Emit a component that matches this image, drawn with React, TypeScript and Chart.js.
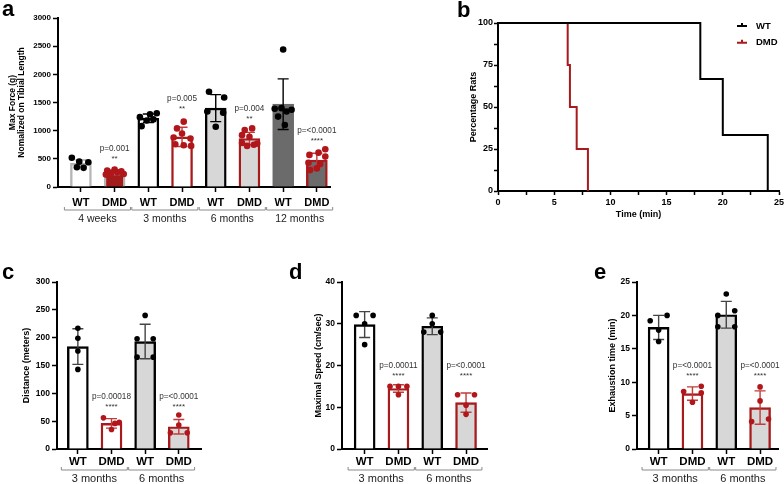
import React, { useEffect, useRef } from "react";
import { Chart, registerables } from "chart.js";
Chart.register(...registerables);

const FONT = "'Liberation Sans', Arial, Helvetica, sans-serif";
Chart.defaults.font.family = FONT;

// ---------- Panel a data ----------
const A_LABELS = ["WT", "DMD", "WT", "DMD", "WT", "DMD", "WT", "DMD"];
const A_GROUPS = ["4 weeks", "3 months", "6 months", "12 months"];
const A_MEANS = [420, 262, 1220, 890, 1400, 860, 1470, 480];
const A_SD = [60, 40, 75, 170, 240, 110, 450, 120];
const A_POINTS = [
  [520, 450, 440, 350, 340],
  [310, 290, 280, 260, 250, 230, 220],
  [1310, 1290, 1240, 1200, 1180, 1080],
  [1160, 1040, 950, 880, 860, 760, 740, 730],
  [1690, 1590, 1340, 1320, 1070],
  [1040, 1010, 920, 890, 780, 750, 730, 770],
  [2440, 1400, 1390, 1370, 1340, 1250, 1100],
  [670, 610, 570, 540, 430, 410, 330, 300],
];
const A_JITTER = [
  [-0.27, -0.05, 0.22, -0.12, 0.08],
  [0.0, -0.22, 0.2, 0.08, -0.1, 0.27, -0.26],
  [0.25, 0.05, -0.25, 0.15, -0.05, -0.2],
  [0.05, -0.15, 0.0, -0.25, 0.25, -0.2, 0.05, 0.27],
  [-0.2, 0.25, -0.25, 0.22, 0.0],
  [0.08, -0.14, -0.22, 0.0, -0.22, 0.13, -0.07, 0.23],
  [0.0, -0.05, -0.25, 0.25, 0.1, -0.15, 0.05],
  [0.25, 0.05, -0.22, 0.25, -0.25, 0.1, 0.0, -0.2],
];
const A_P = ["", "p=0.001", "", "p=0.005", "", "p=0.004", "", "p=<0.0001"];
const A_STARS = ["", "**", "", "**", "", "**", "", "****"];
const A_PLEVEL = [0, 675, 0, 1562, 0, 1385, 0, 994];

// ---------- Panel b data ----------
const KM_WT_TIME = [0, 18, 20, 24];
const KM_WT_SURV = [100, 66.7, 33.3, 0];
const KM_DMD_TIME = [0, 6.2, 6.4, 7, 8];
const KM_DMD_SURV = [100, 75, 50, 25, 0];
const KM_SERIES = ["WT", "DMD"];

// ---------- Panels c, d, e data ----------
const CDE_LABELS = ["WT", "DMD", "WT", "DMD"];
const CDE_GROUPS = ["3 months", "6 months"];

const C_MEANS = [184, 46, 193, 40];
const C_SD = [32, 8.5, 31, 13];
const C_POINTS = [[217, 199, 176, 143], [56, 48, 46, 35], [240, 198, 198, 165, 165], [61, 43, 29, 29]];
const C_JITTER = [[0, 0, 0, 0], [-0.24, 0.23, 0.1, 0], [0, -0.24, 0.24, -0.24, 0.24], [0, 0, -0.25, 0.25]];
const C_P = ["", "p=0.00018", "", "p=<0.0001"];
const C_STARS = ["", "****", "", "****"];
const C_PLEVEL = [0, 93, 0, 93];

const D_MEANS = [29.8, 14.5, 29.4, 11.1];
const D_SD = [3.1, 0.9, 2.0, 2.3];
const D_POINTS = [[32, 32, 30, 25], [15, 15, 15, 13], [32, 30, 28, 28], [13, 13, 10.5, 8.3]];
const D_JITTER = [[-0.25, 0.25, 0, 0], [-0.25, 0, 0.25, 0], [0, 0, -0.25, 0.25], [-0.25, 0.25, 0, 0]];
const D_P = ["", "p=0.00011", "", "p=<0.0001"];
const D_STARS = ["", "****", "", "****"];
const D_PLEVEL = [0, 20, 0, 20];

const E_MEANS = [18.2, 8.3, 20.1, 6.2];
const E_SD = [1.8, 1.0, 2.0, 2.5];
const E_POINTS = [[19.2, 20, 17.8, 16.1], [8.6, 9.4, 8.4, 7.0], [23.2, 20.0, 20.7, 18.3, 18.3], [9.3, 7.2, 4.1, 4.5]];
const E_JITTER = [[-0.25, 0.25, 0, 0], [-0.26, 0.26, 0.26, 0], [0, -0.25, 0.25, -0.25, 0.25], [0, 0, -0.25, 0.25]];
const E_P = ["", "p=<0.0001", "", "p=<0.0001"];
const E_STARS = ["", "****", "", "****"];
const E_PLEVEL = [0, 12.4, 0, 12.4];

// ---------- styles ----------
const RED = "#a81a1c";
const PT_RED = "#b0161a";
const ERR_RED = "#c23a3a";
const LIGHT = "#d7d7d7";
const DARK = "#6b6b6b";

type Area = { left: number; right: number; top: number; bottom: number };
type BarSpec = {
  left: number; top: number; width: number; height: number;
  area: Area; xMin: number; xMax: number; yMax: number; yStep: number;
  labels: string[]; groups: string[];
  means: number[]; sd: number[]; points: number[][]; jitter: number[][];
  pText: string[]; stars: string[]; pLevel: number[];
  fill: string[]; border: string[]; errColor: string[];
  yTitle: string[]; yTitleX: number[]; yTitleSize: number;
  tickSize: number; catSize: number; catPad: number; groupSize: number;
  bracketY: number; groupY: number; radius: number;
  letter: string; letterX: number; letterY: number;
};

function makeBarConfig(s: BarSpec) {
  const bars = s.means.map((m, i) => ({ x: i, y: m }));
  const wt: any[] = [];
  const dmd: any[] = [];
  s.points.forEach((arr, i) =>
    arr.forEach((v, j) => (s.labels[i] === "WT" ? wt : dmd).push({ x: i + s.jitter[i][j], y: v }))
  );
  const plugin = {
    id: "annot",
    afterDatasetDraw(chart: any, args: any) {
      if (args.index !== 0) return;
      const ctx = chart.ctx;
      const xs = chart.scales.x, ys = chart.scales.y;
      s.means.forEach((m, i) => {
        const x = xs.getPixelForValue(i);
        const yT = ys.getPixelForValue(m + s.sd[i]);
        const yB = ys.getPixelForValue(Math.max(0, m - s.sd[i]));
        ctx.save();
        ctx.strokeStyle = s.errColor[i];
        ctx.lineWidth = 1.4;
        ctx.beginPath();
        ctx.moveTo(x, yT); ctx.lineTo(x, yB);
        ctx.moveTo(x - 5.5, yT); ctx.lineTo(x + 5.5, yT);
        ctx.moveTo(x - 5.5, yB); ctx.lineTo(x + 5.5, yB);
        ctx.stroke();
        ctx.restore();
      });
    },
    afterDraw(chart: any) {
      const ctx = chart.ctx;
      const xs = chart.scales.x, ys = chart.scales.y;
      const ca = chart.chartArea;
      ctx.save();
      ctx.fillStyle = "#333";
      ctx.textAlign = "center";
      ctx.textBaseline = "middle";
      s.pText.forEach((t, i) => {
        if (!t) return;
        const x = xs.getPixelForValue(i);
        const y = ys.getPixelForValue(s.pLevel[i]);
        ctx.font = `8.2px ${FONT}`;
        ctx.fillText(t, x, y);
        ctx.font = `8px ${FONT}`;
        ctx.fillText(s.stars[i], x, y + 10);
      });
      s.groups.forEach((g, k) => {
        const x1 = xs.getPixelForValue(2 * k - 0.49);
        const x2 = xs.getPixelForValue(2 * k + 1 + 0.47);
        ctx.strokeStyle = "#8a8a8a";
        ctx.lineWidth = 1;
        ctx.beginPath();
        ctx.moveTo(x1, s.bracketY - 3); ctx.lineTo(x1, s.bracketY); ctx.lineTo(x2, s.bracketY); ctx.lineTo(x2, s.bracketY - 3);
        ctx.stroke();
        ctx.fillStyle = "#222";
        ctx.font = `${s.groupSize}px ${FONT}`;
        ctx.fillText(g, (x1 + x2) / 2, s.groupY);
      });
      ctx.fillStyle = "#000";
      ctx.font = `bold ${s.yTitleSize}px ${FONT}`;
      const cy = (ca.top + ca.bottom) / 2;
      s.yTitle.forEach((t, i) => {
        ctx.save();
        ctx.translate(s.yTitleX[i], cy);
        ctx.rotate(-Math.PI / 2);
        ctx.fillText(t, 0, 0);
        ctx.restore();
      });
      ctx.font = `bold 22px ${FONT}`;
      ctx.textAlign = "left";
      ctx.textBaseline = "alphabetic";
      ctx.fillText(s.letter, s.letterX, s.letterY);
      ctx.restore();
    },
  };
  return {
    type: "bar",
    data: {
      datasets: [
        {
          type: "bar", data: bars, backgroundColor: s.fill, borderColor: s.border,
          borderWidth: 2.4, barThickness: 21, borderSkipped: "start", order: 3,
        },
        { type: "scatter", data: dmd, pointRadius: s.radius, backgroundColor: PT_RED, borderWidth: 0, order: 2 },
        { type: "scatter", data: wt, pointRadius: s.radius, backgroundColor: "#000", borderWidth: 0, order: 1 },
      ],
    },
    options: {
      responsive: false, animation: false, events: [],
      layout: { padding: { left: 0, top: s.area.top, right: s.width - s.area.right, bottom: 0 } },
      plugins: { legend: { display: false }, tooltip: { enabled: false } },
      scales: {
        x: {
          type: "linear", min: s.xMin, max: s.xMax, offset: false,
          afterBuildTicks: (sc: any) => { sc.ticks = s.labels.map((_, i) => ({ value: i })); },
          afterFit: (sc: any) => { sc.height = s.height - s.area.bottom; sc.paddingLeft = 0; sc.paddingRight = 0; },
          ticks: {
            autoSkip: false, maxRotation: 0, padding: s.catPad, color: "#000",
            font: { size: s.catSize, weight: "bold", family: FONT },
            callback: (v: any) => s.labels[v] ?? "",
          },
          grid: { offset: false, drawOnChartArea: false, drawTicks: true, tickLength: 5, tickColor: "#000", tickWidth: 1.5 },
          border: { color: "#000", width: 2 },
        },
        y: {
          min: 0, max: s.yMax,
          afterFit: (sc: any) => { sc.width = s.area.left; sc.paddingTop = 0; sc.paddingBottom = 0; },
          ticks: {
            stepSize: s.yStep, padding: 2, color: "#000",
            font: { size: s.tickSize, weight: "bold", family: FONT },
            callback: (v: any) => String(v),
          },
          grid: { drawOnChartArea: false, drawTicks: true, tickLength: 5, tickColor: "#000", tickWidth: 1.5 },
          border: { color: "#000", width: 2 },
        },
      },
    },
    plugins: [plugin],
  };
}

function makeKMConfig(W: number, H: number, area: Area) {
  const wt = KM_WT_TIME.map((t, i) => ({ x: t, y: KM_WT_SURV[i] }));
  const dmd = KM_DMD_TIME.map((t, i) => ({ x: t, y: KM_DMD_SURV[i] }));
  const colors = ["#000", RED];
  const plugin = {
    id: "kmannot",
    afterDraw(chart: any) {
      const ctx = chart.ctx;
      const ca = chart.chartArea;
      ctx.save();
      ctx.fillStyle = "#000";
      ctx.font = `bold 9px ${FONT}`;
      ctx.textAlign = "center";
      ctx.textBaseline = "middle";
      ctx.fillText("Time (min)", (ca.left + ca.right) / 2, 215);
      ctx.save();
      ctx.translate(94, (ca.top + ca.bottom) / 2);
      ctx.rotate(-Math.PI / 2);
      ctx.fillText("Percentage Rats", 0, 0);
      ctx.restore();
      KM_SERIES.forEach((name, i) => {
        const y = 26 + i * 16.7;
        ctx.strokeStyle = colors[i];
        ctx.lineWidth = 2;
        ctx.beginPath();
        ctx.moveTo(357, y); ctx.lineTo(367, y);
        ctx.moveTo(362, y); ctx.lineTo(362, y - 3);
        ctx.stroke();
        ctx.fillStyle = "#000";
        ctx.font = `bold 9.5px ${FONT}`;
        ctx.textAlign = "left";
        ctx.fillText(name, 376, y);
      });
      ctx.font = `bold 22px ${FONT}`;
      ctx.textBaseline = "alphabetic";
      ctx.fillText("b", 77, 16.5);
      ctx.restore();
    },
  };
  return {
    type: "line",
    data: {
      datasets: [
        { data: wt, borderColor: colors[0], borderWidth: 2, pointRadius: 0, stepped: "before", fill: false, clip: 4 },
        { data: dmd, borderColor: colors[1], borderWidth: 2, pointRadius: 0, stepped: "before", fill: false, clip: 4 },
      ],
    },
    options: {
      responsive: false, animation: false, events: [],
      layout: { padding: { left: 0, top: area.top, right: W - area.right, bottom: 0 } },
      plugins: { legend: { display: false }, tooltip: { enabled: false } },
      scales: {
        x: {
          type: "linear", min: 0, max: 25, offset: false,
          afterFit: (sc: any) => { sc.height = H - area.bottom; sc.paddingLeft = 0; sc.paddingRight = 0; },
          ticks: {
            stepSize: 2.5, autoSkip: false, maxRotation: 0, padding: 2, color: "#000",
            font: { size: 9, weight: "bold", family: FONT },
            callback: (v: any) => (v % 5 === 0 ? String(v) : ""),
          },
          grid: { drawOnChartArea: false, drawTicks: true, tickLength: 4, tickColor: "#000", tickWidth: 1.5 },
          border: { color: "#000", width: 2 },
        },
        y: {
          min: 0, max: 100,
          afterFit: (sc: any) => { sc.width = area.left; sc.paddingTop = 0; sc.paddingBottom = 0; },
          ticks: {
            stepSize: 12.5, autoSkip: false, padding: 1, color: "#000",
            font: { size: 9, weight: "bold", family: FONT },
            callback: (v: any) => (v % 25 === 0 ? String(v) : ""),
          },
          grid: { drawOnChartArea: false, drawTicks: true, tickLength: 4, tickColor: "#000", tickWidth: 1.5 },
          border: { color: "#000", width: 2 },
        },
      },
    },
    plugins: [plugin],
  };
}

function ChartCanvas({ left, top, width, height, make }: any) {
  const ref = useRef<HTMLCanvasElement>(null);
  useEffect(() => {
    const chart = new Chart(ref.current as any, make() as any);
    return () => chart.destroy();
  }, []);
  return (
    <canvas
      ref={ref}
      width={width}
      height={height}
      style={{ position: "absolute", left, top, width, height, display: "block" }}
    />
  );
}

const FILL_CDE = ["#fff", "#fff", LIGHT, LIGHT];
const BORDER_CDE = ["#000", RED, "#000", RED];
const ERR_CDE = ["#444", ERR_RED, "#444", ERR_RED];

const SPEC_A: BarSpec = {
  left: 0, top: 0, width: 380, height: 240,
  area: { left: 58, right: 330, top: 18, bottom: 187 }, xMin: -0.68, xMax: 7.39, yMax: 3000, yStep: 500,
  labels: A_LABELS, groups: A_GROUPS, means: A_MEANS, sd: A_SD, points: A_POINTS, jitter: A_JITTER,
  pText: A_P, stars: A_STARS, pLevel: A_PLEVEL,
  fill: ["#fff", "#a31b1b", "#fff", "#fff", LIGHT, LIGHT, DARK, DARK],
  border: ["#b5b5b5", "#b5b5b5", "#000", RED, "#000", RED, DARK, RED],
  errColor: ["#aaa", "#aaa", "#000", ERR_RED, "#000", ERR_RED, "#000", ERR_RED],
  yTitle: ["Max Force (g)", "Nomalized on Tibial Length"], yTitleX: [13, 22], yTitleSize: 8.5,
  tickSize: 8, catSize: 11, catPad: 4, groupSize: 10.5, bracketY: 210, groupY: 219.5, radius: 3.3,
  letter: "a", letterX: 2, letterY: 15.5,
};

const baseCDE = {
  top: 240, width: 260, height: 244, yTitleSize: 9, tickSize: 8.5, catSize: 11.5, catPad: 1,
  groupSize: 11, bracketY: 230, groupY: 239, radius: 2.8,
  labels: CDE_LABELS, groups: CDE_GROUPS, fill: FILL_CDE, border: BORDER_CDE, errColor: ERR_CDE, letterY: 39.3,
};

const SPEC_C: BarSpec = {
  ...baseCDE, left: 0,
  area: { left: 57, right: 201, top: 42, bottom: 209 }, xMin: -0.62, xMax: 3.66, yMax: 300, yStep: 50,
  means: C_MEANS, sd: C_SD, points: C_POINTS, jitter: C_JITTER, pText: C_P, stars: C_STARS, pLevel: C_PLEVEL,
  yTitle: ["Distance (meters)"], yTitleX: [27], letter: "c", letterX: 2,
} as BarSpec;

const SPEC_D: BarSpec = {
  ...baseCDE, left: 260,
  area: { left: 82, right: 227, top: 42, bottom: 209 }, xMin: -0.67, xMax: 3.62, yMax: 40, yStep: 10,
  means: D_MEANS, sd: D_SD, points: D_POINTS, jitter: D_JITTER, pText: D_P, stars: D_STARS, pLevel: D_PLEVEL,
  yTitle: ["Maximal Speed (cm/sec)"], yTitleX: [59], letter: "d", letterX: 29,
} as BarSpec;

const SPEC_E: BarSpec = {
  ...baseCDE, left: 520, width: 264,
  area: { left: 117, right: 258, top: 42, bottom: 209 }, xMin: -0.64, xMax: 3.53, yMax: 25, yStep: 5,
  means: E_MEANS, sd: E_SD, points: E_POINTS, jitter: E_JITTER, pText: E_P, stars: E_STARS, pLevel: E_PLEVEL,
  yTitle: ["Exhaustion time (min)"], yTitleX: [93], letter: "e", letterX: 74,
} as BarSpec;

export default function App() {
  const bArea = { left: 118, right: 399, top: 23, bottom: 191 };
  return (
    <div style={{ position: "fixed", left: 0, top: 0, width: 784, height: 484, background: "#fff", overflow: "hidden" }}>
      <ChartCanvas left={0} top={0} width={380} height={240} make={() => makeBarConfig(SPEC_A)} />
      <ChartCanvas left={380} top={0} width={404} height={240} make={() => makeKMConfig(404, 240, bArea)} />
      <ChartCanvas left={0} top={240} width={260} height={244} make={() => makeBarConfig(SPEC_C)} />
      <ChartCanvas left={260} top={240} width={260} height={244} make={() => makeBarConfig(SPEC_D)} />
      <ChartCanvas left={520} top={240} width={264} height={244} make={() => makeBarConfig(SPEC_E)} />
    </div>
  );
}
